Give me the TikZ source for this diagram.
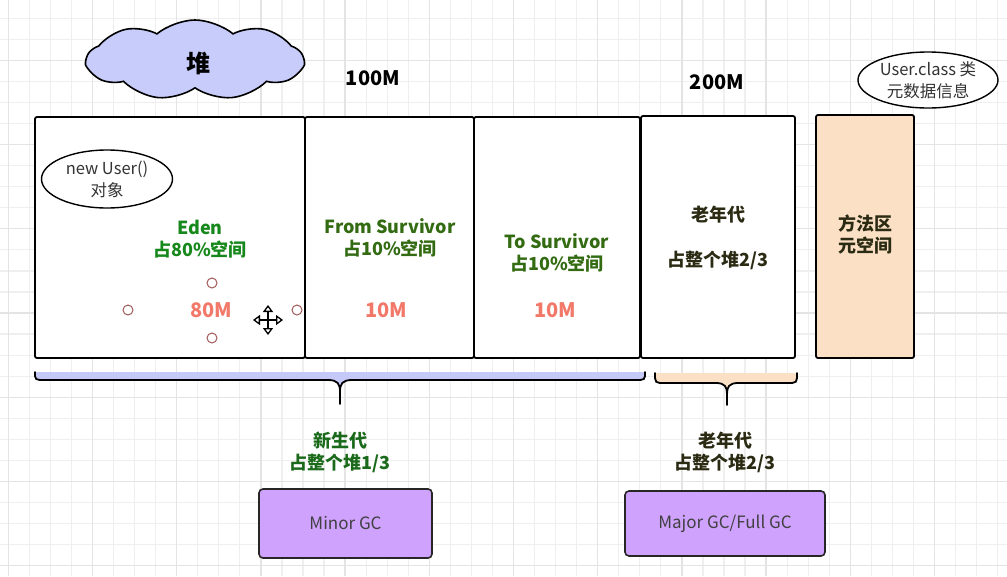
\documentclass[tikz,border=0pt]{standalone}
\usepackage{fontspec}
\setmainfont{Noto Sans CJK SC}
\usepackage{tikz}
\usetikzlibrary{
	arrows.meta,									% 箭头样式
	shapes.geometric,								% 椭圆
	shapes.symbols,									% 云朵形状
}

\definecolor{gridminor}{HTML}{EFEFEF}
\definecolor{gridmajor}{HTML}{E4E4E4}
\definecolor{heapblue}{HTML}{C8CCFA}
\definecolor{youngblue}{HTML}{C5C9F7}
\definecolor{metapeach}{HTML}{FCE0C6}
\definecolor{gcpurple}{HTML}{CFA2FD}
\definecolor{edengreen}{HTML}{17881B}
\definecolor{survgreen}{HTML}{336B12}
\definecolor{younggreen}{HTML}{1B6A1B}
\definecolor{olddark}{HTML}{2B2B14}
\definecolor{sizered}{HTML}{F2796A}
\definecolor{handlered}{HTML}{A05A5A}

\tikzset{
	area/.style={draw=black, line width=1.8, fill=white, rounded corners=2, inner sep=0pt},
	cn/.style={font=\bfseries\fontsize{18}{22}\selectfont, align=center},
	memsize/.style={font=\bfseries\fontsize{20}{22}\selectfont, text=sizered},
	note/.style={ellipse, draw=black, line width=1.4, fill=white, inner sep=0pt, align=center,
		font=\fontsize{16.5}{22}\selectfont, text=black!80},
	gcbox/.style={draw=black!85, line width=1.6, fill=gcpurple, rounded corners=4,
		font=\fontsize{17}{20}\selectfont, text=black!75},
	handle/.style={circle, draw=handlered, line width=1, fill=white, minimum size=10, inner sep=0pt},
}

\begin{document}
\begin{tikzpicture}[x=1pt, y=-1pt]
	\useasboundingbox (0,0) rectangle (1007,576);
	\fill[white] (0,0) rectangle (1007,576);
	% 背景网格
	\foreach \i in {0,...,47}
		\draw[gridminor, line width=1.2] (8.3+21.05*\i,0) -- (8.3+21.05*\i,576);
	\foreach \j in {0,...,26}
		\draw[gridminor, line width=1.2] (0,18.3+21.05*\j) -- (1007,18.3+21.05*\j);
	\foreach \i in {0,4,...,44}
		\draw[gridmajor, line width=1.3] (8.3+21.05*\i,0) -- (8.3+21.05*\i,576);
	\foreach \j in {2,6,...,26}
		\draw[gridmajor, line width=1.3] (0,18.3+21.05*\j) -- (1007,18.3+21.05*\j);

	\node[cloud, cloud puffs=9, cloud puff arc=80, aspect=2.7, draw=black, line width=1.6, fill=heapblue,
		minimum width=216, minimum height=80, font=\bfseries\fontsize{24}{24}\selectfont] (heap) at (195,60) {};
	\node[font=\bfseries\fontsize{24}{24}\selectfont] (heaplbl) at (198,63) {堆};
	\node[font=\bfseries\fontsize{20}{22}\selectfont] (ysize) at (373,78) {100M};
	\node[font=\bfseries\fontsize{20}{22}\selectfont] (osize) at (717,82) {200M};
	\node[note, minimum width=140, minimum height=56] (cls) at (928,80) {User.class 类\\元数据信息};

	% 堆的各个分区
	\node[area, minimum width=270, minimum height=241] (eden) at (170,237.5) {};
	\node[area, minimum width=169, minimum height=241] (from) at (389.5,237.5) {};
	\node[area, minimum width=166, minimum height=241] (to) at (557,237.5) {};
	\node[area, minimum width=154, minimum height=242] (old) at (718,237) {};
	\node[area, fill=metapeach, minimum width=98, minimum height=243] (meta) at (865,236.5) {};

	\node[note, minimum width=131, minimum height=58] (obj) at (107,179) {new User()\\对象};
	\node[cn, text=edengreen] (edenlbl) at (200,239) {Eden\\占80\%空间};
	\node[cn, text=survgreen] (fromlbl) at (390,238) {From Survivor\\占10\%空间};
	\node[cn, text=survgreen] (tolbl) at (557,253) {To Survivor\\占10\%空间};
	\node[memsize] (edensize) at (211,310) {80M};
	\node[memsize] (fromsize) at (386,310) {10M};
	\node[memsize] (tosize) at (555,310) {10M};
	\node[cn, text=olddark] (oldlbl) at (718,237.5) {老年代\\[23pt]占整个堆2/3};
	\node[cn, text=olddark] (metalbl) at (865,234.5) {方法区\\元空间};

	% 选中控制点与光标
	\node[handle] (htop) at (212,283) {};
	\node[handle] (hleft) at (128,310) {};
	\node[handle] (hright) at (297,310) {};
	\node[handle] (hbot) at (212,338) {};
	\coordinate (cur) at (268,320);
	\draw[line width=1.3, {Triangle[open, length=7, width=10]}-{Triangle[open, length=7, width=10]}]
		([xshift=-15]cur) -- ([xshift=15]cur);
	\draw[line width=1.3, {Triangle[open, length=7, width=10]}-{Triangle[open, length=7, width=10]}]
		([yshift=-15]cur) -- ([yshift=15]cur);

	% 大括号
	\coordinate (yl) at (35,372);
	\coordinate (yr) at (645,372);
	\coordinate (yt) at (340,404);
	\fill[youngblue] (yl) .. controls (35,380) .. (45,380) -- (328,380)
		.. controls (338,380) and (340,384) .. (340,392)
		.. controls (340,384) and (342,380) .. (352,380) -- (635,380)
		.. controls (645,380) .. (yr) -- cycle;
	\draw[line width=1.8, line cap=round] (yl) .. controls (35,380) .. (45,380) -- (328,380)
		.. controls (338,380) and (340,384) .. (340,392) -- (yt)
		(340,392) .. controls (340,384) and (342,380) .. (352,380) -- (635,380)
		.. controls (645,380) .. (yr);
	\coordinate (ol) at (655,373);
	\coordinate (or) at (797,373);
	\coordinate (ot) at (727,405);
	\fill[metapeach] (ol) .. controls (655,383) .. (665,383) -- (716,383)
		.. controls (725,383) and (727,387) .. (727,394)
		.. controls (727,387) and (729,383) .. (738,383) -- (787,383)
		.. controls (797,383) .. (or) -- cycle;
	\draw[line width=1.8, line cap=round] (ol) .. controls (655,383) .. (665,383) -- (716,383)
		.. controls (725,383) and (727,387) .. (727,394) -- (ot)
		(727,394) .. controls (727,387) and (729,383) .. (738,383) -- (787,383)
		.. controls (797,383) .. (or);

	\node[cn, text=younggreen] (younglbl) at (340,452) {新生代\\占整个堆1/3};
	\node[cn, text=olddark] (oldsum) at (725,452) {老年代\\占整个堆2/3};
	\node[gcbox, minimum width=173, minimum height=69] (minor) at (345.5,523.5) {Minor GC};
	\node[gcbox, minimum width=200, minimum height=65] (major) at (725,523.5) {Major GC/Full GC};
\end{tikzpicture}
\end{document}
